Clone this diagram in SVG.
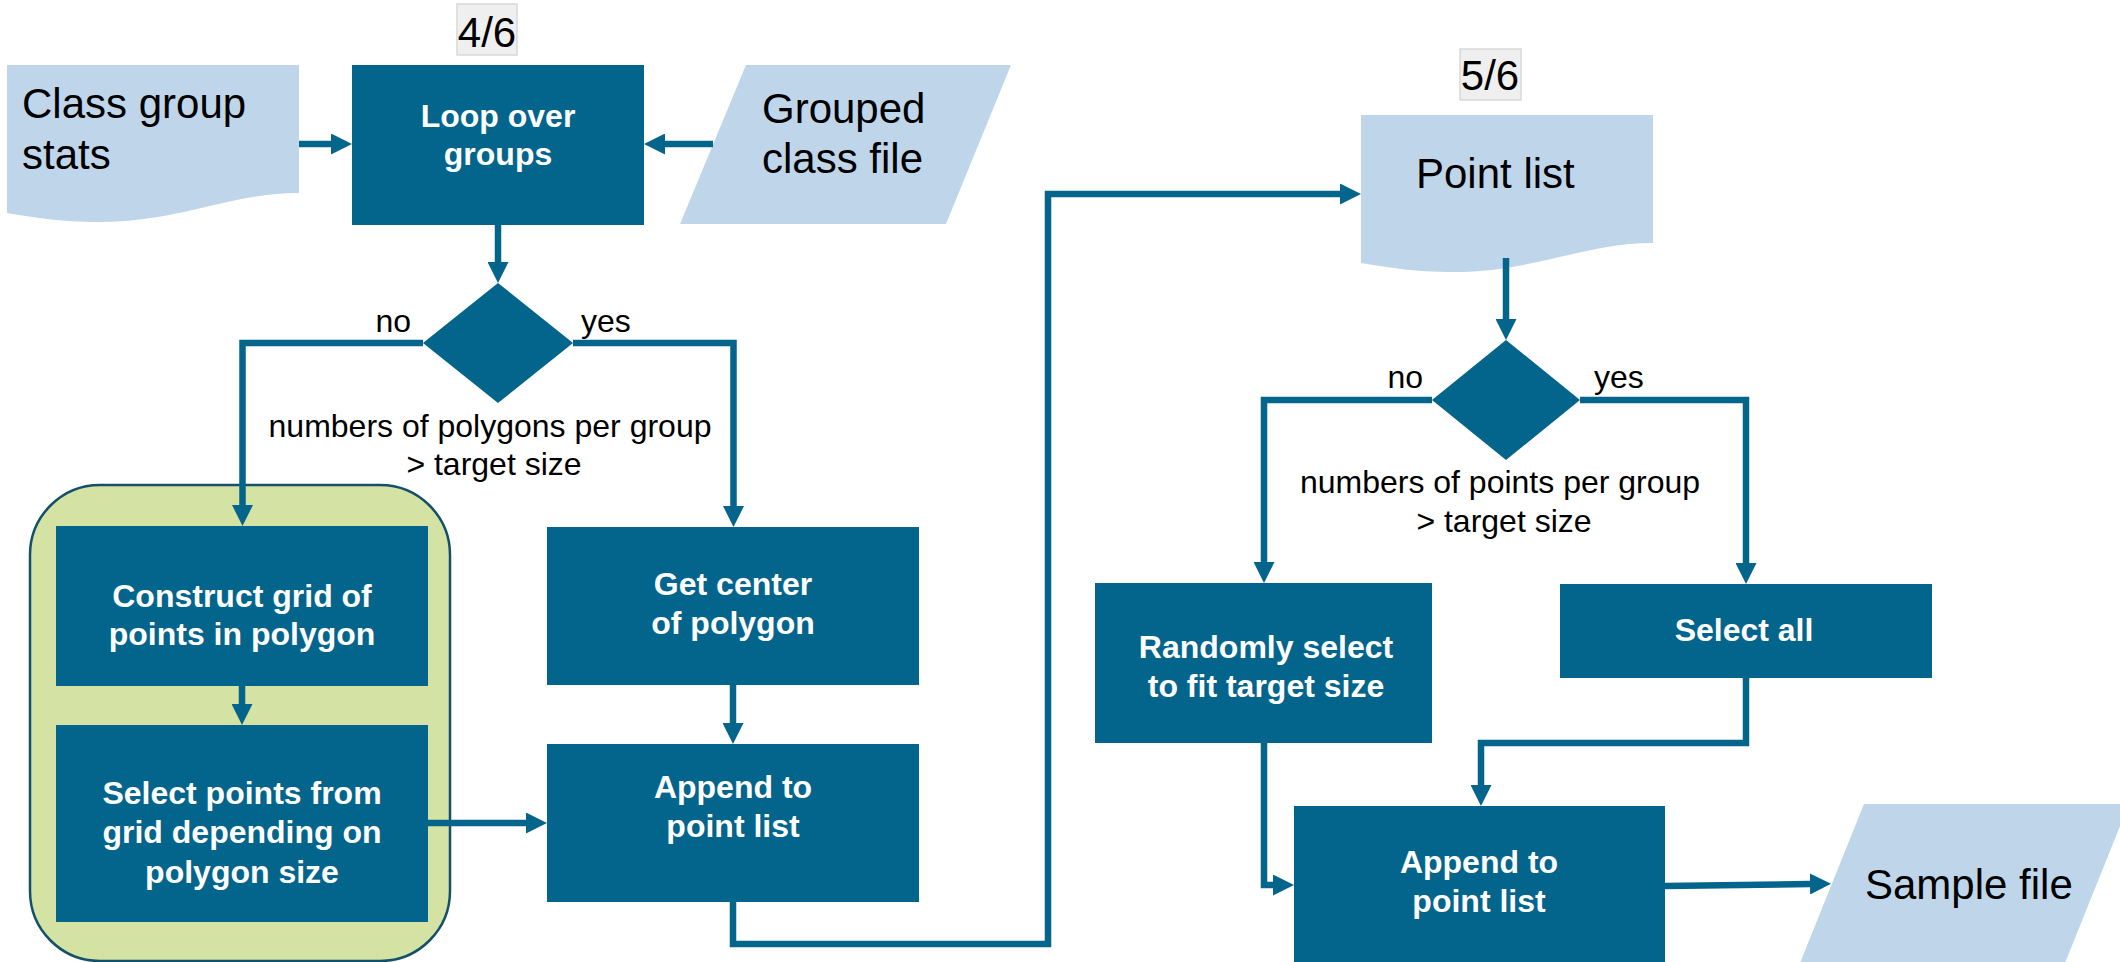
<svg xmlns="http://www.w3.org/2000/svg" width="2120" height="962" viewBox="0 0 2120 962">
<defs>
<marker id="ah" viewBox="0 0 21 21" refX="0" refY="10.5" markerWidth="21" markerHeight="21" markerUnits="userSpaceOnUse" orient="auto"><path d="M0,0 L21,10.5 L0,21 Z" fill="#03658c"/></marker>
<style>
.box{fill:#03658c}
.io{fill:#bfd6ea}
.dec{fill:#03658c}
.wt{font-family:"Liberation Sans",Arial,sans-serif;font-size:32px;font-weight:bold;fill:#ffffff;text-anchor:middle}
.bt{font-family:"Liberation Sans",Arial,sans-serif;font-size:42px;fill:#000000}
.lb{font-family:"Liberation Sans",Arial,sans-serif;font-size:32px;fill:#000000}
.step{fill:#efefef;stroke:#d9d9d9;stroke-width:1.5}
.cn{fill:none;stroke:#03658c;stroke-width:6.5;marker-end:url(#ah)}
</style>
</defs>
<rect width="2120" height="962" fill="#ffffff"/>

<g id="group-highlight">
<rect x="30" y="485" width="420" height="476" rx="70" ry="70" fill="#d4e3a3" stroke="#14506a" stroke-width="2.5"/>
</g>

<g id="step-4-6">
<rect class="step" x="457" y="4" width="60" height="51"/>
<text class="bt" x="487" y="47" text-anchor="middle">4/6</text>
</g>
<g id="step-5-6">
<rect class="step" x="1460" y="49" width="61" height="51"/>
<text class="bt" x="1490" y="90" text-anchor="middle">5/6</text>
</g>

<g id="class-group-stats">
<path class="io" d="M7,65 H299 V193 C230,193 180,222 100,222 C60,222 30,217 7,213 Z"/>
<text class="bt" x="22" y="118">Class group</text>
<text class="bt" x="22" y="169">stats</text>
</g>

<g id="loop-over-groups">
<rect class="box" x="352" y="65" width="292" height="160"/>
<text class="wt" x="498" y="127">Loop over</text>
<text class="wt" x="498" y="165">groups</text>
</g>

<g id="grouped-class-file">
<polygon class="io" points="746,65 1011,65 946,224 680,224"/>
<text class="bt" x="762" y="123">Grouped</text>
<text class="bt" x="762" y="173">class file</text>
</g>

<g id="decision-polygons">
<polygon class="dec" points="498,283 573,343 498,403 423,343"/>
<text class="lb" x="411" y="332" text-anchor="end">no</text>
<text class="lb" x="581" y="332">yes</text>
<text class="lb" x="490" y="437" text-anchor="middle">numbers of polygons per group</text>
<text class="lb" x="494" y="475" text-anchor="middle">&gt; target size</text>
</g>

<g id="construct-grid">
<rect class="box" x="56" y="526" width="372" height="160"/>
<text class="wt" x="242" y="607">Construct grid of</text>
<text class="wt" x="242" y="645">points in polygon</text>
</g>

<g id="select-points">
<rect class="box" x="56" y="725" width="372" height="197"/>
<text class="wt" x="242" y="804">Select points from</text>
<text class="wt" x="242" y="843">grid depending on</text>
<text class="wt" x="242" y="883">polygon size</text>
</g>

<g id="get-center">
<rect class="box" x="547" y="527" width="372" height="158"/>
<text class="wt" x="733" y="595">Get center</text>
<text class="wt" x="733" y="634">of polygon</text>
</g>

<g id="append-1">
<rect class="box" x="547" y="744" width="372" height="158"/>
<text class="wt" x="733" y="798">Append to</text>
<text class="wt" x="733" y="837">point list</text>
</g>

<g id="point-list">
<path class="io" d="M1361,115 H1653 V243 C1584,243 1534,272 1454,272 C1414,272 1384,267 1361,263 Z"/>
<text class="bt" x="1416" y="188">Point list</text>
</g>

<g id="decision-points">
<polygon class="dec" points="1506,340 1580,400 1506,460 1432,400"/>
<text class="lb" x="1423" y="388" text-anchor="end">no</text>
<text class="lb" x="1594" y="388">yes</text>
<text class="lb" x="1500" y="493" text-anchor="middle">numbers of points per group</text>
<text class="lb" x="1504" y="532" text-anchor="middle">&gt; target size</text>
</g>

<g id="randomly-select">
<rect class="box" x="1095" y="583" width="337" height="160"/>
<text class="wt" x="1266" y="658">Randomly select</text>
<text class="wt" x="1266" y="697">to fit target size</text>
</g>

<g id="select-all">
<rect class="box" x="1560" y="584" width="372" height="94"/>
<text class="wt" x="1744" y="641">Select all</text>
</g>

<g id="append-2">
<rect class="box" x="1294" y="806" width="371" height="170"/>
<text class="wt" x="1479" y="873">Append to</text>
<text class="wt" x="1479" y="912">point list</text>
</g>

<g id="sample-file">
<polygon class="io" points="1864,804 2129,804 2065,963 1800,963"/>
<text class="bt" x="1865" y="899">Sample file</text>
</g>

<g id="connectors">
<path class="cn" d="M299,144 H331"/>
<path class="cn" d="M713,144 H665"/>
<path class="cn" d="M498,225 V262"/>
<path class="cn" d="M423,343 H242.5 V505"/>
<path class="cn" d="M573,343 H733.5 V506"/>
<path class="cn" d="M242,686 V704"/>
<path class="cn" d="M428,823 H526"/>
<path class="cn" d="M733,685 V723"/>
<path class="cn" d="M733,902 V944 H1048 V194 H1340"/>
<path class="cn" d="M1506,258 V319"/>
<path class="cn" d="M1432,400 H1264 V562"/>
<path class="cn" d="M1580,400 H1746 V563"/>
<path class="cn" d="M1264,743 V885 H1273"/>
<path class="cn" d="M1746,678 V743 H1481 V785"/>
<path class="cn" d="M1665,886 L1810,884"/>
</g>
</svg>
